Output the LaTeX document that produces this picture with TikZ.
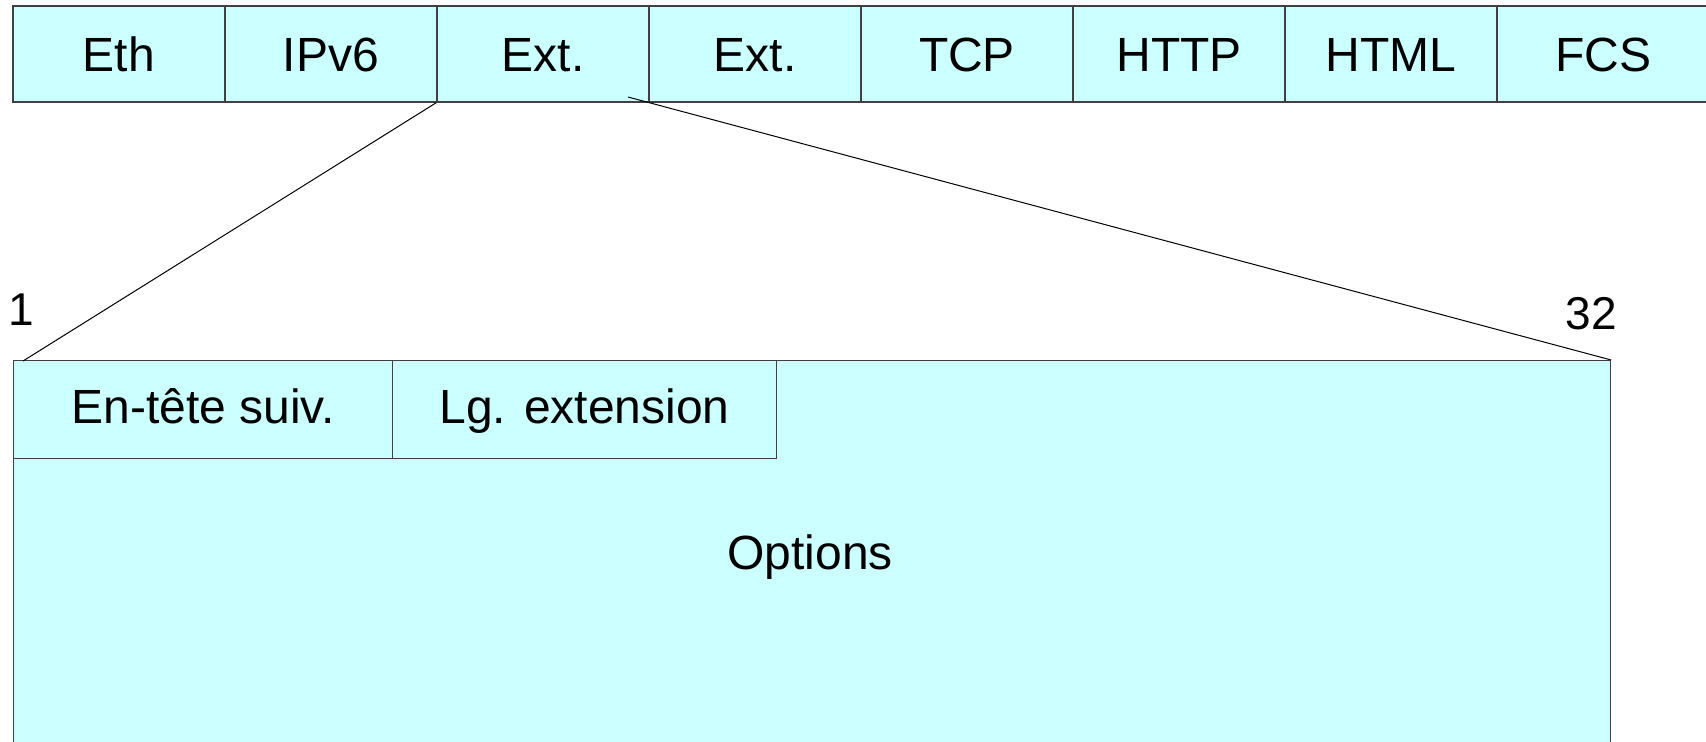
\documentclass[tikz,border=0pt]{standalone}
\usepackage{fontspec}
\setmainfont{Liberation Sans}
\definecolor{cellfill}{HTML}{CCFFFF}
\definecolor{cellline}{HTML}{404040}
\tikzset{
  cell/.style={draw=cellline, fill=cellfill, line width=0.6pt, inner sep=0pt,
    minimum width=106pt, minimum height=48pt,
    font=\fontsize{24}{29}\selectfont, text height=17.2pt, text depth=0.2pt},
  field/.style={cell, minimum height=49pt, text depth=3.2pt},
  bitnum/.style={inner sep=0pt, font=\fontsize{23}{28}\selectfont},
  zoomline/.style={draw=black, line width=0.5pt}
}
\begin{document}
\begin{tikzpicture}[x=0.5pt, y=-0.5pt]
  \useasboundingbox (0,0) rectangle (1706,741);
  \clip (0,0) rectangle (1706,741);

  % protocol stack of the frame
  \node[cell] (eth)  at (119,54)  {Eth};
  \node[cell] (ipv6) at (331,54)  {IPv6};
  \node[cell] (ext1) at (543,54)  {Ext.};
  \node[cell] (ext2) at (755,54)  {Ext.};
  \node[cell] (tcp)  at (967,54)  {TCP};
  \node[cell] (http) at (1179,54) {HTTP};
  \node[cell] (html) at (1391,54) {HTML};
  \node[cell] (fcs)  at (1603,54) {FCS};

  % extension header layout
  \node[cell, anchor=north west, minimum width=798.5pt, minimum height=230pt] (hdr) at (13,360) {};
  \node[field, anchor=north west, minimum width=189.5pt] (next) at (13,360) {En-tête suiv.};
  \node[field, anchor=north west, minimum width=192pt] (len) at (392,360) {Lg. extension};
  \node[inner sep=0pt, anchor=base, font=\fontsize{24}{29}\selectfont] (opt) at (810,569) {Options};

  % bit numbering
  \node[bitnum, anchor=base west] (b1) at (8,325) {1};
  \node[bitnum, anchor=base east] (b32) at (1617,329) {32};

  % zoom lines from the first extension header
  \coordinate (zl) at (23,361);
  \coordinate (zr) at (628,97);
  \draw[zoomline] (ext1.south west) -- (zl);
  \draw[zoomline] (zr) -- (hdr.north east);
\end{tikzpicture}
\end{document}
